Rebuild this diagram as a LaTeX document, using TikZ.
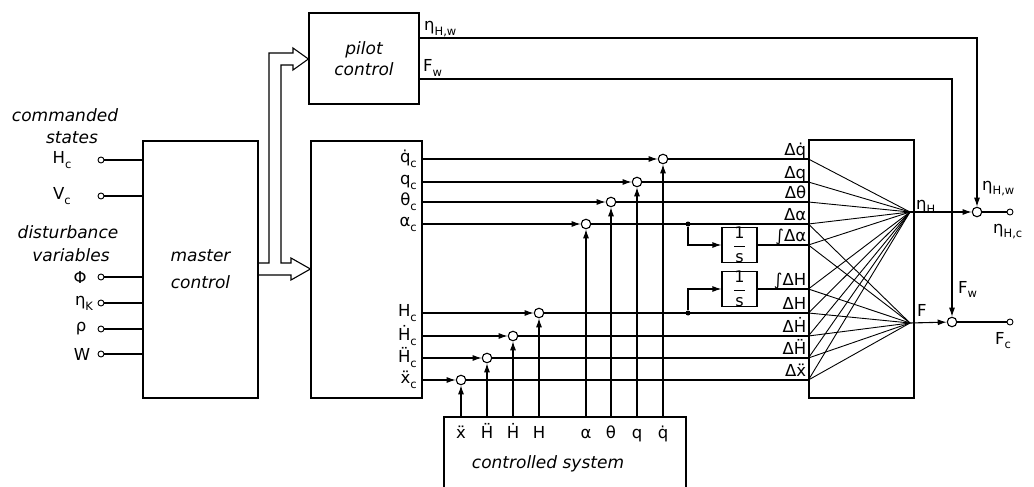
\documentclass[tikz,border=0pt]{standalone}
\usepackage{fontspec}
\setmainfont{DejaVu Sans}
\usetikzlibrary{arrows.meta,calc}
\newcommand\sbs[1]{\raisebox{-0.3em}{\fontsize{11.5}{12}\selectfont #1}}
\newcommand\onebys{\(\displaystyle\frac{\mbox{1}}{\mbox{s}}\)}
\begin{document}
\begin{tikzpicture}[x=1pt,y=-1pt,
  font=\fontsize{16.5}{18}\selectfont,
  box/.style={draw,line width=1.2pt,inner sep=0pt},
  word/.style={font=\fontsize{17}{19}\selectfont\itshape},
  sig/.style={line width=1.1pt},
  fan/.style={line width=0.9pt},
  arr/.style={sig,-{Latex[length=9pt,width=6pt]}},
  sumj/.style={circle,draw,fill=white,line width=1.1pt,minimum size=9.5pt,inner sep=0pt},
  term/.style={circle,draw,fill=white,line width=0.9pt,minimum size=6pt,inner sep=0pt},
  dotn/.style={circle,fill,minimum size=5pt,inner sep=0pt},
  lbl/.style={inner sep=0pt},
  frac/.style={box,line width=1.1pt,minimum width=35pt,minimum height=27pt,font=\fontsize{16}{16}\selectfont}]
\useasboundingbox (0,0) rectangle (1034,487);

% ---------- left inputs
\node[lbl,word] (tcom) at (65,115) {commanded};
\node[lbl,word] (tsta) at (72,138) {states};
\node[lbl,word] (tdis) at (68,232) {disturbance};
\node[lbl,word] (tvar) at (71,255) {variables};

\node[box,minimum width=115pt,minimum height=257pt,align=center,word] (master) at (200.5,269.5) {master\\[8pt]control};

\foreach \n/\y/\lx/\t in {iH/160/62/H\sbs{c}, iV/196/62/V\sbs{c}, iP/277/80/Φ, iE/303/84/η\sbs{K}, iR/329/81/ρ, iW/354/82/W}{
  \node[term] (\n) at (101,\y) {};
  \node[lbl] (l\n) at (\lx,\y) {\t};
  \draw[sig] (\n) -- (\n -| master.west);
}

% ---------- pilot control and command block
\node[box,minimum width=110pt,minimum height=91pt,align=center,word] (pilot) at (364,58.5) {pilot\\[2pt]control};
\node[box,minimum width=111pt,minimum height=257pt] (cmd) at (366.5,269.5) {};

% hollow double arrows
\draw[line width=1.1pt,line join=miter]
  (master.east |- 0,263) -- (269,263) -- (269,53) -- (293,53) -- (293,48) -- (pilot.west |- 0,59)
  -- (293,70) -- (293,65) -- (281,65) -- (281,263) -- (291,263) -- (291,258) -- (cmd.west |- 0,269)
  -- (291,280) -- (291,275) -- (master.east |- 0,275);

% ---------- controlled system
\coordinate (cstop) at (0,417);
\draw[line width=1.2pt] (444,495) -- (444,417) -- (686,417) -- (686,495);
\node[lbl,word] (cs) at (548,464) {controlled system};

% ---------- summing junctions
\foreach \n/\x/\y/\cl/\fl in {jqd/663/159/q̇/q̇, jq/637/182/q/q, jth/611/202/θ/θ, jal/586/224/α/α,
    jH/539/313/H/H, jHd/513/336/Ḣ/Ḣ, jHdd/487/358/Ḧ/Ḧ, jxdd/461/380/ẍ/ẍ}{
  \node[sumj] (\n) at (\x,\y) {};
  \node[lbl,anchor=east] (c\n) at (417,\y) {\cl\sbs{c}};
  \node[lbl,anchor=base] (f\n) at (\x,438) {\fl};
  \draw[arr] (cmd.east |- \n) -- (\n);
  \draw[arr] (\n |- cstop) -- (\n);
}

% ---------- matrix block
\node[box,minimum width=105pt,minimum height=258pt] (mat) at (861.5,269) {};
\coordinate (pe) at (910,212);
\coordinate (pf) at (910,323);

% integrator branches
\node[dotn] (da) at (688,224) {};
\node[dotn] (dh) at (688,313) {};
\node[frac] (int1) at (739.5,245) {\onebys};
\node[frac] (int2) at (739.5,289) {\onebys};
\draw[arr] (da) |- (int1.west);
\draw[arr] (dh) |- (int2.west);

% lines into the matrix
\foreach \n in {jqd,jq,jth,jal,jH,jHd,jHdd,jxdd}{
  \draw[sig] (\n) -- (\n -| mat.west);
}
\draw[sig] (int1.east) -- (int1.east -| mat.west);
\draw[sig] (int2.east) -- (int2.east -| mat.west);

\foreach \n/\y/\t in {m1/159/Δq̇, m2/182/Δq, m3/202/Δθ, m4/224/Δα, m5/245/∫Δα,
    m6/289/∫ΔH, m7/313/ΔH, m8/336/ΔḢ, m9/358/ΔḦ, m10/380/Δẍ}{
  \coordinate (\n) at (mat.west |- 0,\y);
  \node[lbl,anchor=base east] (t\n) at ($(\n)+(-2,-4)$) {\t};
  \draw[fan] (\n) -- (pe);
}
\foreach \n in {m4,m5,m6,m7,m8,m9,m10}{
  \draw[fan] (\n) -- (pf);
}
\node[lbl,anchor=base west] (leta) at (916,209) {η\sbs{H}};
\node[lbl,anchor=base west] (lf) at (917,316) {F};

% ---------- outputs
\node[sumj] (jeta) at (977,212) {};
\node[sumj] (jF) at (952,322) {};
\node[term] (teta) at (1010,212) {};
\node[term] (tF) at (1010,322) {};
\draw[arr] (pe) -- (jeta);
\draw[arr] (pf) -- (jF);
\draw[sig] (jeta) -- (teta);
\draw[sig] (jF) -- (tF);
\draw[arr] (pilot.east |- 0,38) -| (jeta);
\draw[arr] (pilot.east |- 0,79) -| (jF);

\node[lbl,anchor=base west] (lhw1) at (424,31) {η\sbs{H,w}};
\node[lbl,anchor=base west] (lfw1) at (423,72) {F\sbs{w}};
\node[lbl,anchor=base west] (lhw2) at (982,190) {η\sbs{H,w}};
\node[lbl,anchor=base west] (lfw2) at (958,293) {F\sbs{w}};
\node[lbl,anchor=base west] (lhc) at (993,233) {η\sbs{H,c}};
\node[lbl,anchor=base west] (lfc) at (995,344) {F\sbs{c}};
\end{tikzpicture}
\end{document}
